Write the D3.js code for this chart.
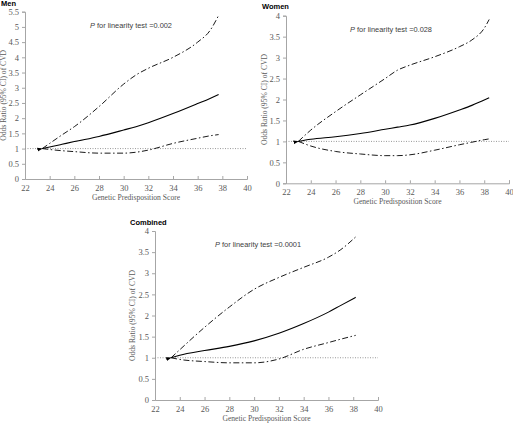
<!DOCTYPE html>
<html>
<head>
<meta charset="utf-8">
<script src="https://cdn.jsdelivr.net/npm/d3@7"></script>
<style>
  html, body { margin: 0; padding: 0; background: #fff; }
  svg { display: block; }
</style>
</head>
<body>
<svg id="chart" width="513" height="423"></svg>
<script>
// ---------------- DATA ----------------
const xTicks = [22, 24, 26, 28, 30, 32, 34, 36, 38, 40];

const menX     = [23.4, 24, 25, 26, 28, 30, 31, 32, 34, 36, 37, 37.7];
const menOR    = [1.0, 1.05, 1.14, 1.23, 1.40, 1.61, 1.72, 1.85, 2.15, 2.48, 2.65, 2.78];
const menUpper = [1.0, 1.17, 1.45, 1.72, 2.38, 3.12, 3.42, 3.64, 4.00, 4.50, 4.88, 5.38];
const menLower = [1.0, 0.97, 0.93, 0.90, 0.85, 0.85, 0.88, 0.95, 1.17, 1.34, 1.42, 1.46];
const menYTicks = [0, 0.5, 1, 1.5, 2, 2.5, 3, 3.5, 4, 4.5, 5, 5.5];

const womenX     = [23.0, 24, 26, 28, 30, 31, 32, 34, 36, 37, 38, 38.4];
const womenOR    = [1.0, 1.05, 1.11, 1.19, 1.29, 1.34, 1.39, 1.55, 1.75, 1.86, 1.99, 2.04];
const womenUpper = [1.0, 1.27, 1.71, 2.11, 2.50, 2.70, 2.82, 3.02, 3.26, 3.42, 3.70, 3.91];
const womenLower = [1.0, 0.89, 0.76, 0.70, 0.66, 0.66, 0.68, 0.79, 0.92, 0.98, 1.04, 1.06];
const womenYTicks = [0, 0.5, 1, 1.5, 2, 2.5, 3, 3.5, 4];

const combX     = [23.3, 24, 26, 28, 30, 32, 34, 36, 37, 38.2];
const combOR    = [1.0, 1.06, 1.17, 1.27, 1.40, 1.58, 1.81, 2.08, 2.24, 2.43];
const combUpper = [1.0, 1.19, 1.72, 2.20, 2.62, 2.90, 3.14, 3.38, 3.56, 3.86];
const combLower = [1.0, 0.96, 0.91, 0.88, 0.88, 0.97, 1.20, 1.36, 1.44, 1.53];
const combYTicks = [0, 0.5, 1, 1.5, 2, 2.5, 3, 3.5, 4];

const panelTitles = ["Men", "Women", "Combined"];
const pLabels = ["0.002", "0.028", "0.0001"];
const xTitle = "Genetic Predisposition Score";
const yTitle = "Odds Ratio (95% CI) of CVD";

// ---------------- LAYOUT ----------------
const panels = [
  { title: panelTitles[0], p: pLabels[0], xs: menX, or: menOR, up: menUpper, lo: menLower, yTicks: menYTicks, yMax: 5.5,
    left: 25, right: 247, top: 11.7, bottom: 179, titleX: 1, titleY: 6, pX: 90, pY: 28, yTitleX: 6 },
  { title: panelTitles[1], p: pLabels[1], xs: womenX, or: womenOR, up: womenUpper, lo: womenLower, yTicks: womenYTicks, yMax: 4,
    left: 286, right: 509, top: 15.7, bottom: 183.3, titleX: 262, titleY: 9, pX: 350, pY: 32, yTitleX: 267 },
  { title: panelTitles[2], p: pLabels[2], xs: combX, or: combOR, up: combUpper, lo: combLower, yTicks: combYTicks, yMax: 4,
    left: 155, right: 378, top: 231, bottom: 400, titleX: 130, titleY: 225, pX: 215, pY: 247, yTitleX: 135 }
];

const svg = d3.select("#chart");
const defs = svg.append("defs");
defs.append("marker")
  .attr("id", "arrow")
  .attr("viewBox", "0 0 10 10")
  .attr("refX", 1).attr("refY", 5)
  .attr("markerWidth", 5).attr("markerHeight", 5)
  .attr("orient", "auto-start-reverse")
  .append("path").attr("d", "M0,5 L10,1.5 L10,8.5 Z").attr("fill", "#000");

const serif = "'Liberation Serif', 'Times New Roman', serif";
const sans = "'Liberation Sans', Arial, sans-serif";

panels.forEach(pn => {
  const g = svg.append("g");
  const x = d3.scaleLinear().domain([22, 40]).range([pn.left, pn.right]);
  const y = d3.scaleLinear().domain([0, pn.yMax]).range([pn.bottom, pn.top]);

  // Axes
  const xAxis = d3.axisBottom(x).tickValues(xTicks).tickSize(-3).tickPadding(6).tickFormat(d3.format("d"));
  const yAxis = d3.axisLeft(y).tickValues(pn.yTicks).tickSize(3).tickPadding(3).tickFormat(d => d3.format("")(d));

  const gx = g.append("g").attr("transform", `translate(0,${pn.bottom})`).call(xAxis);
  const gy = g.append("g").attr("transform", `translate(${pn.left},0)`).call(yAxis);
  [gx, gy].forEach(a => {
    a.attr("font-family", serif).attr("font-size", 8.5);
    a.select(".domain").attr("stroke", "#a6a6a6").attr("stroke-width", 1);
    a.selectAll(".tick line").attr("stroke", "#a6a6a6");
    a.selectAll(".tick text").attr("fill", "#595959").style("font-family", serif).style("font-size", "8.5px");
  });

  // Reference line at OR = 1
  g.append("line")
    .attr("x1", x(22)).attr("x2", x(40))
    .attr("y1", y(1)).attr("y2", y(1))
    .attr("stroke", "#999").attr("stroke-width", 1).attr("stroke-dasharray", "1,1.5");

  const line = (vals) => d3.line()
    .x((d, i) => x(pn.xs[i]))
    .y(d => y(d))
    .curve(d3.curveMonotoneX)(vals);

  // CI lines
  [pn.up, pn.lo].forEach(vals => {
    g.append("path").attr("d", line(vals))
      .attr("fill", "none").attr("stroke", "#000").attr("stroke-width", 0.9)
      .attr("stroke-dasharray", "6,2.5,1.5,2.5");
  });
  // Central line
  g.append("path").attr("d", line(pn.or))
    .attr("fill", "none").attr("stroke", "#000").attr("stroke-width", 1.1)
    .attr("marker-start", "url(#arrow)");

  // Titles
  g.append("text").attr("x", pn.titleX).attr("y", pn.titleY)
    .style("font-family", sans).style("font-weight", "bold").style("font-size", "7.5px")
    .attr("fill", "#000").text(pn.title);

  const pt = g.append("text").attr("x", pn.pX).attr("y", pn.pY)
    .style("font-family", sans).style("font-size", "7.4px").attr("fill", "#404040");
  pt.append("tspan").style("font-style", "italic").text("P");
  pt.append("tspan").text(" for linearity test =" + pn.p);

  g.append("text")
    .attr("x", (pn.left + pn.right) / 2).attr("y", pn.bottom + 21)
    .attr("text-anchor", "middle")
    .style("font-family", serif).style("font-size", "7.6px").attr("fill", "#595959")
    .text(xTitle);

  g.append("text")
    .attr("transform", `translate(${pn.yTitleX},${(pn.top + pn.bottom) / 2}) rotate(-90)`)
    .attr("text-anchor", "middle")
    .style("font-family", serif).style("font-size", "7.6px").attr("fill", "#595959")
    .text(yTitle);
});
</script>
</body>
</html>
